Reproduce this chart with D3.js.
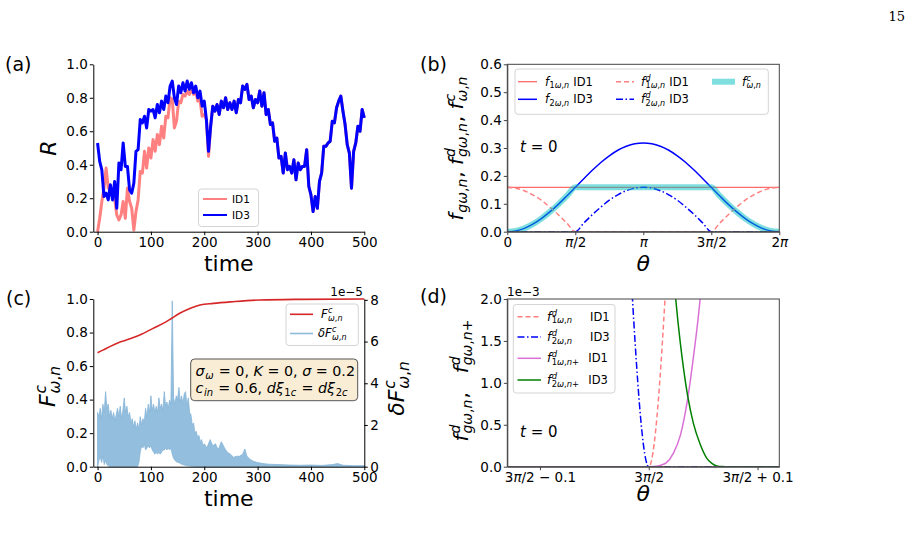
<!DOCTYPE html>
<html>
<head>
<meta charset="utf-8">
<script src="https://cdn.jsdelivr.net/npm/d3@7"></script>
<style>
  body { margin: 0; background: #fff; }
  svg { display: block; }
  text { font-family: "DejaVu Sans", sans-serif; fill: #000; white-space: pre; }
</style>
</head>
<body>
<svg id="fig" width="912" height="537"></svg>
<script>
// ---------- data ----------
// (a) order parameter R, sampled every 4 time units
const stepA = 4;
const id3R = [0.53,0.42,0.37,0.21,0.23,0.19,0.28,0.19,0.30,0.14,
  0.41,0.37,0.53,0.39,0.39,0.25,0.23,0.29,0.48,0.49,
  0.67,0.65,0.69,0.62,0.73,0.72,0.73,0.68,0.76,0.71,
  0.78,0.73,0.81,0.77,0.87,0.90,0.80,0.76,0.87,0.83,
  0.89,0.84,0.90,0.85,0.89,0.83,0.87,0.80,0.84,0.75,
  0.78,0.67,0.48,0.63,0.75,0.72,0.76,0.70,0.78,0.74,
  0.80,0.73,0.77,0.73,0.78,0.71,0.79,0.77,0.87,0.85,
  0.88,0.79,0.81,0.74,0.79,0.77,0.84,0.75,0.83,0.70,
  0.73,0.64,0.65,0.54,0.56,0.44,0.45,0.35,0.47,0.37,
  0.39,0.35,0.43,0.31,0.41,0.37,0.39,0.39,0.49,0.27,
  0.22,0.12,0.21,0.14,0.30,0.35,0.51,0.51,0.53,0.54,
  0.66,0.65,0.74,0.78,0.81,0.72,0.64,0.52,0.47,0.26,
  0.48,0.53,0.63,0.60,0.73,0.68];
// ID1 differs from ID3 only until t ~ 208, afterwards it lies under ID3
const id1Early = [0.00,0.08,0.18,0.26,0.38,0.26,0.25,0.22,0.20,0.10,
  0.07,0.10,0.18,0.08,0.26,0.18,0.14,0.01,0.12,0.19,
  0.36,0.35,0.48,0.38,0.50,0.44,0.55,0.48,0.58,0.52,
  0.63,0.56,0.69,0.68,0.80,0.79,0.62,0.66,0.78,0.77,
  0.82,0.81,0.84,0.82,0.85,0.82,0.84,0.78,0.79,0.69,
  0.70,0.67,0.45];
const id1R = id1Early.concat(id3R.slice(id1Early.length));
const timeTicks = [0, 100, 200, 300, 400, 500];
const rTicks = [0, 0.2, 0.4, 0.6, 0.8, 1.0];

// (b) distributions at t = 0, theta sampled every pi/16
const thetaB = d3.range(33).map(k => k * Math.PI / 16);
const f1B = Array(33).fill(0.159);
const f2B = [0,0.003,0.012,0.027,0.047,0.071,0.098,0.128,0.159,0.190,0.220,0.248,0.272,0.292,0.306,0.315,0.318,
  0.315,0.306,0.292,0.272,0.248,0.220,0.190,0.159,0.128,0.098,0.071,0.047,0.027,0.012,0.003,0];
const f1dB = [0.159,0.156,0.147,0.132,0.113,0.088,0.061,0.031,0,0,0,0,0,0,0,0,0,
  0,0,0,0,0,0,0,0,0.031,0.061,0.088,0.113,0.132,0.147,0.156,0.159];
const f2dB = [0,0,0,0,0,0,0,0,0,0.031,0.061,0.088,0.113,0.132,0.147,0.156,0.159,
  0.156,0.147,0.132,0.113,0.088,0.061,0.031,0,0,0,0,0,0,0,0,0];
const fcB = [0,0.003,0.012,0.027,0.047,0.071,0.098,0.128,0.159,0.159,0.159,0.159,0.159,0.159,0.159,0.159,0.159,
  0.159,0.159,0.159,0.159,0.159,0.159,0.159,0.159,0.128,0.098,0.071,0.047,0.027,0.012,0.003,0];
const thetaTicksB = [0, Math.PI / 2, Math.PI, 3 * Math.PI / 2, 2 * Math.PI];
const thetaLabelsB = ["0", "π/2", "π", "3π/2", "2π"];
const fTicksB = [0, 0.1, 0.2, 0.3, 0.4, 0.5, 0.6];

// (c) F^c (left axis) and deltaF^c band (right axis, x1e-5)
const fcT = [0, 10, 23, 40, 54, 79, 104, 129, 139, 154, 173, 192, 217, 254, 304, 379, 500];
const fcV = [0.68, 0.695, 0.716, 0.74, 0.755, 0.785, 0.825, 0.865, 0.885, 0.915, 0.944, 0.964, 0.974, 0.984, 0.994, 0.998, 1.0];
// dense part t = 0..200 every 2.5
const dfHeadT = d3.range(0, 200.1, 2.5);
const dfHeadHigh = [2.6,2.4,2.8,2.3,3.0,2.6,3.6,2.8,3.0,2.4,
  2.7,2.3,2.6,2.2,2.5,2.8,2.4,2.9,2.3,2.7,
  3.3,2.6,2.9,2.4,2.6,2.1,2.3,1.9,2.2,1.8,
  2.1,1.8,2.4,2.0,2.3,2.1,2.8,2.4,3.0,2.6,
  3.4,2.7,3.0,2.6,2.9,2.6,3.3,2.8,3.0,2.7,
  3.6,2.9,3.1,2.8,3.2,3.0,7.95,3.3,3.0,3.4,
  3.2,3.8,3.1,3.4,3.0,3.5,3.6,2.9,3.3,2.6,
  2.5,2.0,2.1,1.6,1.7,1.4,1.5,1.2,1.3,1.0,
  1.1];
const dfHeadLow = [0,0.3,0.5,0.2,0.5,0.1,0.3,0.1,0.05,0,
  0,0,0,0,0,0,0,0,0,0,
  0,0,0,0,0,0,0,0,0,0,
  0,0.2,0.7,1.0,0.9,1.1,0.8,0.9,1.0,0.9,
  1.0,0.8,0.7,0.6,0.7,0.6,0.7,0.6,0.7,0.8,
  0.8,0.9,0.8,0.9,0.8,0.9,0.6,0.4,0.3,0.25,
  0.2,0.2,0.15,0.12,0.1,0.08,0.06,0.05,0.04,0.03,
  0.02,0.02,0.01,0.01,0,0,0,0,0,0,
  0];
// sparse tail, lower edge at 0
const dfTailT = [205,211,216,221,226,232,238,243,249,255,260,266,272,276,280,286,293,300,310,320,340,360,380,400,420,440,450,460,480,500];
const dfTailHigh = [0.9,1.3,1.0,1.1,0.8,1.2,0.9,0.7,0.6,0.45,0.5,0.5,0.6,0.85,0.5,0.35,0.25,0.2,0.15,0.12,0.1,0.08,0.07,0.08,0.06,0.1,0.15,0.07,0.05,0.05];
const dfTicks = [0, 2, 4, 6, 8];

// (d) zoom around 3pi/2, offsets in rad from 3pi/2, values x1e-3
const dThetaTicks = [-0.1, 0, 0.1];
const dThetaLabels = ["3π/2 − 0.1", "3π/2", "3π/2 + 0.1"];
const f1dOff = [-0.13, 0, 0.02];
const f1dVal = [0, 0, 3.18];
const f2dOff = [-0.02, 0, 0.12];
const f2dVal = [3.18, 0, 0];
const f1pOff = [-0.13, 0, 0.005, 0.0104, 0.016, 0.0226, 0.029, 0.0359, 0.041, 0.0472, 0.052];
const f1pVal = [0, 0, 0.001, 0.015, 0.045, 0.16, 0.37, 0.82, 1.3, 2.0, 2.8];
const f2pOff = [0.018, 0.0248, 0.0288, 0.032, 0.0359, 0.041, 0.0472, 0.0534, 0.058, 0.0626, 0.068, 0.07, 0.12];
const f2pVal = [3.09, 2.0, 1.5, 1.17, 0.835, 0.52, 0.27, 0.1, 0.04, 0.01, 0.001, 0, 0];
const fTicksD = [0, 0.5, 1.0, 1.5, 2.0];

// ---------- helpers ----------
const svg = d3.select("#fig");
svg.append("rect").attr("width", 912).attr("height", 537).attr("fill", "#fff");

const isIt = ch => /[A-Za-z\u03b1-\u03c9\u0391-\u03a9]/.test(ch);
function runs(str) {
  const out = [];
  for (const ch of str) {
    const it = isIt(ch);
    if (out.length && out[out.length - 1].it === it) out[out.length - 1].s += ch;
    else out.push({ s: ch, it });
  }
  return out;
}
// parts: "plain", {m: "math"}, {sup: "..", sub: ".."}
function mathLabel(parent, parts, size, anchor = 0) {
  const outer = parent.append("g");
  const g = outer.append("g");
  let x = 0;
  const put = (str, fs, dy, math) => {
    let w = 0;
    (math ? runs(str) : [{ s: str, it: false }]).forEach(r => {
      const t = g.append("text").attr("x", x + w).attr("y", dy)
        .style("font-size", fs + "px").style("font-style", r.it ? "italic" : "normal").text(r.s);
      w += t.node().getComputedTextLength();
    });
    return w;
  };
  parts.forEach(p => {
    if (typeof p === "string") x += put(p, size, 0, false);
    else if (p.m !== undefined) x += put(p.m, size, 0, true);
    else {
      const fs = size * 0.7, x0 = x + size * 0.04;
      let w1 = 0, w2 = 0;
      x = x0;
      if (p.sup) w1 = put(p.sup, fs, -size * 0.4, true);
      x = x0;
      if (p.sub) w2 = put(p.sub, fs, size * 0.22, true);
      x = x0 + Math.max(w1, w2) + size * 0.05;
    }
  });
  g.attr("transform", `translate(${-x * anchor},0)`);
  return outer;
}
function styleAxis(g, color) {
  g.attr("font-family", null).attr("font-size", null);
  g.selectAll(".tick text").style("font-size", "13.5px");
  g.selectAll(".tick line").attr("stroke", color || "#000");
  g.select(".domain").attr("stroke", color || "#000");
}
function italicPi(g) {
  g.selectAll(".tick text").each(function () {
    const t = d3.select(this), s = t.text();
    t.text(null);
    s.split(/(π)/).forEach(p => {
      if (p) t.append("tspan").style("font-style", p === "π" ? "italic" : "normal").text(p);
    });
  });
}
function legendBox(x, y, w, h) {
  svg.append("rect").attr("x", x).attr("y", y).attr("width", w).attr("height", h)
    .attr("rx", 3).attr("fill", "#fff").attr("fill-opacity", 0.85)
    .attr("stroke", "#d4d4d4").attr("stroke-width", 1);
}
function legendLine(x1, x2, y, color, width, dash, opacity) {
  svg.append("line").attr("x1", x1).attr("x2", x2).attr("y1", y).attr("y2", y)
    .attr("stroke", color).attr("stroke-width", width)
    .attr("stroke-dasharray", dash || null).attr("stroke-opacity", opacity || 1);
}
const zip = (a, b) => a.map((v, i) => [v, b[i]]);

// ---------- panel (a) ----------
const xA = d3.scaleLinear().domain([-8, 500]).range([93.3, 364.3]);
const yA = d3.scaleLinear().domain([0, 1]).range([231.7, 64.3]);
const lineA = d3.line().x(d => xA(d[0])).y(d => yA(d[1]));
svg.append("path").datum(id1R.map((v, i) => [i * stepA, v])).attr("d", lineA)
  .attr("fill", "none").attr("stroke", "#ff8080").attr("stroke-width", 3).attr("stroke-linejoin", "round");
svg.append("path").datum(id3R.map((v, i) => [i * stepA, v])).attr("d", lineA)
  .attr("fill", "none").attr("stroke", "#0000ff").attr("stroke-width", 3).attr("stroke-linejoin", "round");
svg.append("g").attr("transform", "translate(0,231.7)")
  .call(d3.axisBottom(xA).tickValues(timeTicks).tickSize(3.5).tickPadding(2).tickSizeOuter(0))
  .call(styleAxis);
svg.append("g").attr("transform", "translate(93.3,0)")
  .call(d3.axisLeft(yA).tickValues(rTicks).tickFormat(d3.format(".1f")).tickSize(3.5).tickPadding(2).tickSizeOuter(0))
  .call(styleAxis);
legendBox(198.5, 189, 60, 37.5);
legendLine(203, 227, 199, "#ff8080", 2);
legendLine(203, 227, 215, "#0000ff", 2);
svg.append("text").attr("x", 232).attr("y", 203).style("font-size", "10.5px").text("ID1");
svg.append("text").attr("x", 232).attr("y", 219).style("font-size", "10.5px").text("ID3");
mathLabel(svg, [{ m: "R" }], 22, 0.5).attr("transform", "translate(56,148) rotate(-90)");
svg.append("text").attr("x", 228.8).attr("y", 271).attr("text-anchor", "middle").style("font-size", "22px").text("time");
svg.append("text").attr("x", 5).attr("y", 71).style("font-size", "19px").text("(a)");

// ---------- panel (b) ----------
const xB = d3.scaleLinear().domain([0, 2 * Math.PI]).range([507.3, 779.3]);
const yB = d3.scaleLinear().domain([0, 0.6]).range([231.7, 64.3]);
svg.append("clipPath").attr("id", "clipB").append("rect")
  .attr("x", 507.3).attr("y", 64.3).attr("width", 272).attr("height", 167.4);
const lineB = d3.line().x(d => xB(d[0])).y(d => yB(d[1])).curve(d3.curveMonotoneX);
const gB = svg.append("g").attr("clip-path", "url(#clipB)");
gB.append("path").datum(zip(thetaB, f1B)).attr("d", lineB).attr("fill", "none")
  .attr("stroke", "#ff6b6b").attr("stroke-width", 1.3);
gB.append("path").datum(zip(thetaB, f2B)).attr("d", lineB).attr("fill", "none")
  .attr("stroke", "#0000ff").attr("stroke-width", 1.5);
gB.append("path").datum(zip(thetaB, f1dB)).attr("d", lineB).attr("fill", "none")
  .attr("stroke", "#ff8080").attr("stroke-width", 1.5).attr("stroke-dasharray", "5,3");
gB.append("path").datum(zip(thetaB, f2dB)).attr("d", lineB).attr("fill", "none")
  .attr("stroke", "#0000ff").attr("stroke-width", 1.5).attr("stroke-dasharray", "7,2.5,1.5,2.5");
gB.append("path").datum(zip(thetaB, fcB)).attr("d", lineB).attr("fill", "none")
  .attr("stroke", "#00bfbf").attr("stroke-opacity", 0.5).attr("stroke-width", 6);
svg.append("g").attr("transform", "translate(0,231.7)")
  .call(d3.axisBottom(xB).tickValues(thetaTicksB).tickFormat((d, i) => thetaLabelsB[i]).tickSize(3.5).tickPadding(2).tickSizeOuter(0))
  .call(g => styleAxis(g, "#444")).call(italicPi);
svg.append("g").attr("transform", "translate(507.3,0)")
  .call(d3.axisLeft(yB).tickValues(fTicksB).tickFormat(d3.format(".1f")).tickSize(3.5).tickPadding(2).tickSizeOuter(0))
  .call(g => styleAxis(g, "#444"));
svg.append("rect").attr("x", 507.3).attr("y", 64.3).attr("width", 272).attr("height", 167.4)
  .attr("fill", "none").attr("stroke", "#444").attr("stroke-width", 1);
legendBox(515, 69, 253.3, 45.3);
legendLine(518, 537, 81.7, "#ff6b6b", 1.3);
legendLine(518, 537, 99.3, "#0000ff", 1.5);
legendLine(616, 634, 81.7, "#ff8080", 1.5, "5,3");
legendLine(616, 634, 99.3, "#0000ff", 1.5, "7,2.5,1.5,2.5");
legendLine(712, 735, 81.7, "#00bfbf", 6, null, 0.5);
mathLabel(svg, [{ m: "f" }, { sub: "1ω,n" }, " ID1"], 11.5).attr("transform", "translate(545,85.5)");
mathLabel(svg, [{ m: "f" }, { sub: "2ω,n" }, " ID3"], 11.5).attr("transform", "translate(545,103)");
mathLabel(svg, [{ m: "f" }, { sup: "d", sub: "1ω,n" }, " ID1"], 11.5).attr("transform", "translate(641,85.5)");
mathLabel(svg, [{ m: "f" }, { sup: "d", sub: "2ω,n" }, " ID3"], 11.5).attr("transform", "translate(641,103)");
mathLabel(svg, [{ m: "f" }, { sup: "c", sub: "ω,n" }], 11.5).attr("transform", "translate(742,85.5)");
mathLabel(svg, [{ m: "t = 0" }], 15).attr("transform", "translate(520,151.5)");
mathLabel(svg, [{ m: "f" }, { sub: "gω,n" }, { m: ", f" }, { sup: "d", sub: "gω,n" }, { m: ", f" }, { sup: "c", sub: "ω,n" }], 20, 0.5)
  .attr("transform", "translate(463,148) rotate(-90)");
mathLabel(svg, [{ m: "θ" }], 22, 0.5).attr("transform", "translate(643.3,271)");
svg.append("text").attr("x", 420).attr("y", 71).style("font-size", "19px").text("(b)");

// ---------- panel (c) ----------
const xC = d3.scaleLinear().domain([-8, 500]).range([93.3, 364.3]);
const yC = d3.scaleLinear().domain([0, 1]).range([466.7, 299]);
const yC2 = d3.scaleLinear().domain([0, 8.04]).range([466.7, 299]);
const bandC = d3.area().x(d => xC(d.t)).y0(d => yC2(d.lo)).y1(d => yC2(d.hi));
const bandData = dfHeadT.map((t, i) => ({ t, lo: dfHeadLow[i], hi: dfHeadHigh[i] }))
  .concat(dfTailT.map((t, i) => ({ t, lo: 0, hi: dfTailHigh[i] })));
svg.append("path").datum(bandData).attr("d", bandC)
  .attr("fill", "#93bedd").attr("stroke", "#86b5d8").attr("stroke-width", 0.8);
svg.append("path").datum(zip(fcT, fcV))
  .attr("d", d3.line().x(d => xC(d[0])).y(d => yC(d[1])).curve(d3.curveMonotoneX))
  .attr("fill", "none").attr("stroke", "#d62728").attr("stroke-width", 1.6);
svg.append("g").attr("transform", "translate(0,466.7)")
  .call(d3.axisBottom(xC).tickValues(timeTicks).tickSize(3.5).tickPadding(2).tickSizeOuter(0))
  .call(styleAxis);
svg.append("g").attr("transform", "translate(93.3,0)")
  .call(d3.axisLeft(yC).tickValues(rTicks).tickFormat(d3.format(".1f")).tickSize(3.5).tickPadding(2).tickSizeOuter(0))
  .call(styleAxis);
svg.append("g").attr("transform", "translate(364.3,0)")
  .call(d3.axisRight(yC2).tickValues(dfTicks).tickFormat(d3.format("d")).tickSize(3.5).tickPadding(2.5).tickSizeOuter(0))
  .call(styleAxis);
svg.append("text").attr("x", 363).attr("y", 296).attr("text-anchor", "end").style("font-size", "12px").text("1e−5");
legendBox(286, 304, 72.3, 41.5);
legendLine(290, 313, 314.3, "#d62728", 1.6);
legendLine(290, 313, 333.5, "#8fbbd9", 1.6);
mathLabel(svg, [{ m: "F" }, { sup: "c", sub: "ω,n" }], 11.5).attr("transform", "translate(321,318)");
mathLabel(svg, [{ m: "δF" }, { sup: "c", sub: "ω,n" }], 11.5).attr("transform", "translate(318,337)");
svg.append("rect").attr("x", 190.7).attr("y", 359).attr("width", 167).attr("height", 41.7).attr("rx", 4)
  .attr("fill", "#f5deb3").attr("fill-opacity", 0.55).attr("stroke", "#555").attr("stroke-width", 1);
mathLabel(svg, [{ m: "σ" }, { sub: "ω" }, { m: " = 0, K = 0, σ = 0.2" }], 14.3).attr("transform", "translate(195.5,376)");
mathLabel(svg, [{ m: "c" }, { sub: "in" }, { m: " = 0.6, dξ" }, { sub: "1c" }, { m: " = dξ" }, { sub: "2c" }], 14.3)
  .attr("transform", "translate(195.5,393)");
mathLabel(svg, [{ m: "F" }, { sup: "c", sub: "ω,n" }], 22, 0.5).attr("transform", "translate(55,386) rotate(-90)");
mathLabel(svg, [{ m: "δF" }, { sup: "c", sub: "ω,n" }], 22, 0.5).attr("transform", "translate(404,388) rotate(-90)");
svg.append("text").attr("x", 228.8).attr("y", 506).attr("text-anchor", "middle").style("font-size", "22px").text("time");
svg.append("text").attr("x", 6).attr("y", 305).style("font-size", "19px").text("(c)");

// ---------- panel (d) ----------
const xD = d3.scaleLinear().domain([-0.13, 0.12]).range([507.3, 779.3]);
const yD = d3.scaleLinear().domain([0, 2.0]).range([466.7, 299]);
svg.append("clipPath").attr("id", "clipD").append("rect")
  .attr("x", 507.3).attr("y", 299).attr("width", 272).attr("height", 167.7);
const gD = svg.append("g").attr("clip-path", "url(#clipD)");
const lineD = d3.line().x(d => xD(d[0])).y(d => yD(d[1])).curve(d3.curveMonotoneX);
gD.append("path").datum(zip(f1dOff, f1dVal)).attr("d", lineD).attr("fill", "none")
  .attr("stroke", "#ff8080").attr("stroke-width", 1.5).attr("stroke-dasharray", "5,3");
gD.append("path").datum(zip(f2dOff, f2dVal)).attr("d", lineD).attr("fill", "none")
  .attr("stroke", "#0000ff").attr("stroke-width", 1.5).attr("stroke-dasharray", "7,2.5,1.5,2.5");
gD.append("path").datum(zip(f1pOff, f1pVal)).attr("d", lineD).attr("fill", "none")
  .attr("stroke", "#da70d6").attr("stroke-width", 1.5);
gD.append("path").datum(zip(f2pOff, f2pVal)).attr("d", lineD).attr("fill", "none")
  .attr("stroke", "#008000").attr("stroke-width", 1.5);
svg.append("g").attr("transform", "translate(0,466.7)")
  .call(d3.axisBottom(xD).tickValues(dThetaTicks).tickFormat((d, i) => dThetaLabels[i]).tickSize(3.5).tickPadding(2).tickSizeOuter(0))
  .call(g => styleAxis(g, "#444")).call(italicPi);
svg.append("g").attr("transform", "translate(507.3,0)")
  .call(d3.axisLeft(yD).tickValues(fTicksD).tickFormat(d3.format(".1f")).tickSize(3.5).tickPadding(2).tickSizeOuter(0))
  .call(g => styleAxis(g, "#444"));
svg.append("rect").attr("x", 507.3).attr("y", 299).attr("width", 272).attr("height", 167.7)
  .attr("fill", "none").attr("stroke", "#444").attr("stroke-width", 1);
svg.append("text").attr("x", 507).attr("y", 296).style("font-size", "12px").text("1e−3");
legendBox(513.3, 304.5, 101.7, 88.5);
legendLine(517.5, 541, 316.7, "#ff8080", 1.5, "5,3");
legendLine(517.5, 541, 337, "#0000ff", 1.5, "7,2.5,1.5,2.5");
legendLine(517.5, 541, 358.3, "#da70d6", 1.5);
legendLine(517.5, 541, 380, "#008000", 1.5);
mathLabel(svg, [{ m: "f" }, { sup: "d", sub: "1ω,n" }], 12).attr("transform", "translate(547,320.5)");
mathLabel(svg, [{ m: "f" }, { sup: "d", sub: "2ω,n" }], 12).attr("transform", "translate(547,341)");
mathLabel(svg, [{ m: "f" }, { sup: "d", sub: "1ω,n+" }], 12).attr("transform", "translate(547,362)");
mathLabel(svg, [{ m: "f" }, { sup: "d", sub: "2ω,n+" }], 12).attr("transform", "translate(547,384)");
[["ID1", 590, 320.5], ["ID3", 590, 341], ["ID1", 588.3, 362], ["ID3", 588.3, 384]].forEach(([s, x, y]) =>
  svg.append("text").attr("x", x).attr("y", y).style("font-size", "11.5px").text(s));
mathLabel(svg, [{ m: "t = 0" }], 15).attr("transform", "translate(520,436.7)");
mathLabel(svg, [{ m: "f" }, { sup: "d", sub: "gω,n" }, { m: ",   f" }, { sup: "d", sub: "gω,n+" }], 20, 0.5)
  .attr("transform", "translate(468,380) rotate(-90)");
mathLabel(svg, [{ m: "θ" }], 22, 0.5).attr("transform", "translate(643.3,501)");
svg.append("text").attr("x", 420).attr("y", 303).style("font-size", "19px").text("(d)");

// page number
svg.append("text").attr("x", 905).attr("y", 21).attr("text-anchor", "end")
  .style("font-family", "'DejaVu Serif', serif").style("font-size", "13px").text("15");
</script>
</body>
</html>
